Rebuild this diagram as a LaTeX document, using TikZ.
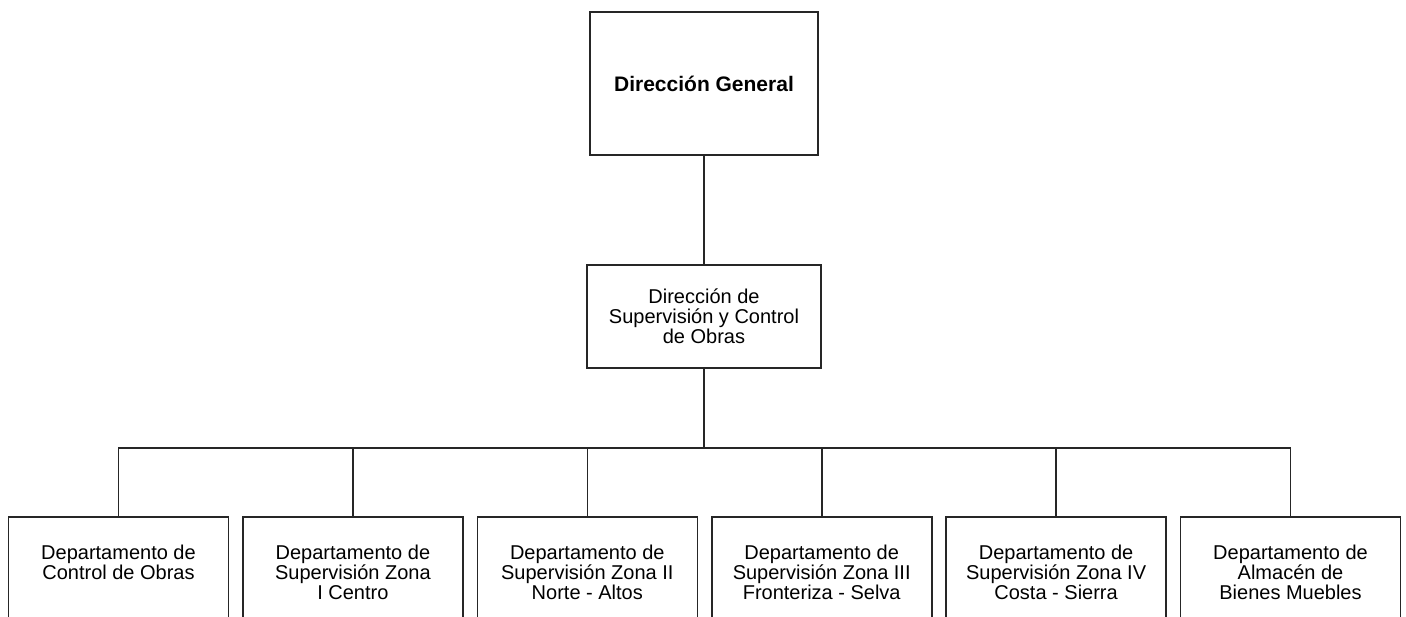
\documentclass[tikz,border=0pt]{standalone}
\usepackage{fontspec}
\setmainfont{Liberation Sans}
\usetikzlibrary{positioning}

\begin{document}
\begin{tikzpicture}[x=1pt, y=-1pt, node distance=110pt,
  every node/.style={font=\fontsize{20}{20}\selectfont},
  box/.style={draw=black!85, line width=1.6pt, align=center, outer sep=0pt, inner sep=4pt},
  dept/.style={box, minimum width=220pt, minimum height=110pt},
  link/.style={draw=black!85, line width=1.6pt}]
  \path[use as bounding box, clip] (0,0) rectangle (1406,616);
  \node[box, minimum width=228pt, minimum height=143pt, font=\bfseries\fontsize{21}{21}\selectfont] (dg) at (704,83.5) {Dirección General};
  \node[box, minimum width=234pt, minimum height=103pt, below=of dg] (dsco) {Dirección de\\Supervisión y Control\\de Obras};
  \coordinate[below=80pt of dsco.south] (bus);
  \node[dept] (dco) at (118.5,572) {Departamento de\\Control de Obras\\\mbox{}};
  \node[dept, right=14.4pt of dco] (dz1) {Departamento de\\Supervisión Zona\\I Centro};
  \node[dept, right=14.4pt of dz1] (dz2) {Departamento de\\Supervisión Zona II\\Norte - Altos};
  \node[dept, right=14.4pt of dz2] (dz3) {Departamento de\\Supervisión Zona III\\Fronteriza - Selva};
  \node[dept, right=14.4pt of dz3] (dz4) {Departamento de\\Supervisión Zona IV\\Costa - Sierra};
  \node[dept, right=14.4pt of dz4] (dab) {Departamento de\\Almacén de\\Bienes Muebles};
  \path[link] (dg) -- (dsco) (dsco) -- (bus);
  \path[link] (bus) -| (dco.north) (bus) -| (dab.north);
  \path[link] (bus) -| (dz1.north) (bus) -| (dz2.north) (bus) -| (dz3.north) (bus) -| (dz4.north);
\end{tikzpicture}
\end{document}
